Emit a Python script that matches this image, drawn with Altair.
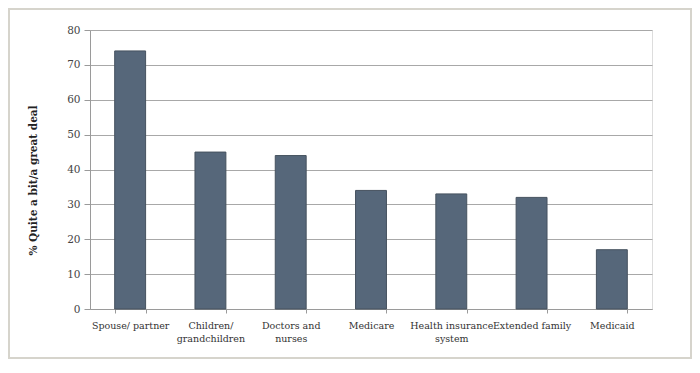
import altair as alt
import pandas as pd

categories = ["Spouse/ partner", "Children/|grandchildren", "Doctors and|nurses", "Medicare",
              "Health insurance|system", "Extended family", "Medicaid"]
values = [74, 45, 44, 34, 33, 32, 17]
y_ticks = [0, 10, 20, 30, 40, 50, 60, 70, 80]

df = pd.DataFrame({"cat": categories, "val": values})

W, H = 562, 279
PL, PT, PR, PB = 82, 22, 40, 50
FONT = "DejaVu Serif"

bars = alt.Chart(df).mark_bar(color="#56677a", stroke="#46525f", strokeWidth=1).encode(
    x=alt.X("cat:N", sort=categories,
            scale=alt.Scale(paddingInner=0.615, paddingOuter=0.3075),
            axis=alt.Axis(title=None, labelExpr="split(datum.label, '|')", labelAngle=0,
                          labelFont=FONT, labelFontSize=9.5, labelColor="#333333",
                          labelOverlap=False, labelPadding=7, labelLimit=200,
                          labelLineHeight=13,
                          tickBand="extent", domainColor="#9a9a9a", tickColor="#9a9a9a",
                          tickSize=4, grid=False)),
    y=alt.Y("val:Q", scale=alt.Scale(domain=[0, 80], nice=False),
            axis=alt.Axis(title="% Quite a bit/a great deal", values=y_ticks,
                          titleFont=FONT, titleFontSize=10.5, titleFontWeight="bold",
                          titleColor="#222222", titlePadding=28, titleY=150,
                          labelFont=FONT, labelFontSize=10.5, labelColor="#444444",
                          labelPadding=4, tickSize=6, tickColor="#9a9a9a",
                          domainColor="#9a9a9a", gridColor="#a8a8a8", gridWidth=1.2)),
)

border = alt.Chart(pd.DataFrame({"k": [0]})).mark_rect(
    fill=None, stroke="#d6d4cc", strokeWidth=2, clip=False
).encode(
    x=alt.value(-PL + 1), x2=alt.value(W + PR - 1),
    y=alt.value(-PT + 1), y2=alt.value(H + PB - 1),
)

chart = alt.layer(bars, border).properties(
    width=W, height=H,
    autosize=alt.AutoSizeParams(type="none"),
    padding={"left": PL, "top": PT, "right": PR, "bottom": PB},
).configure_view(stroke=None).configure(background="white")

chart.save("out.html", embed_options={"renderer": "svg", "actions": False})
